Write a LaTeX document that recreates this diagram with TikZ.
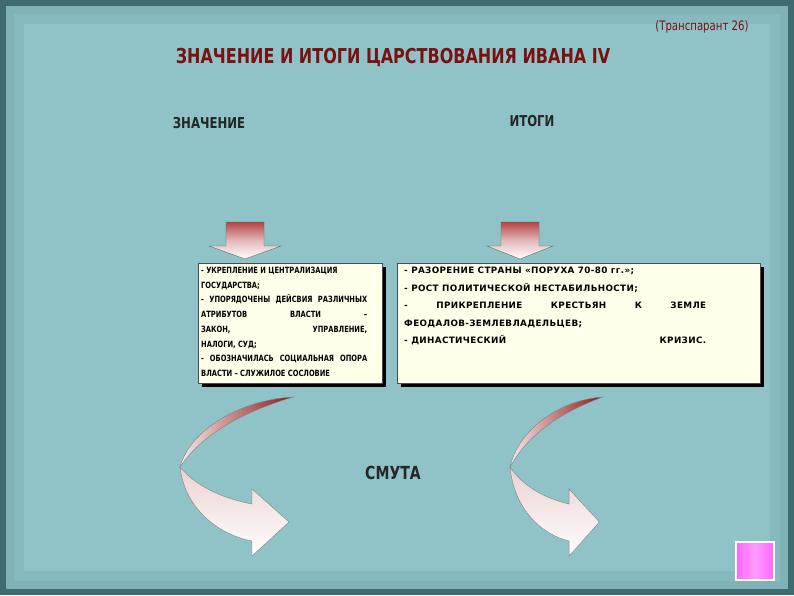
\documentclass[tikz,border=0pt]{standalone}
\usepackage{fontspec}
\setmainfont{DejaVu Sans}
\newfontfamily\nar[FakeStretch=0.78]{DejaVu Sans}
\newfontfamily\wid[LetterSpace=4]{DejaVu Sans}
\usetikzlibrary{shadings}
\definecolor{bg}{HTML}{8FC3C7}
\definecolor{bgd}{HTML}{3F6A70}
\definecolor{tred}{HTML}{7A1010}
\definecolor{cream}{HTML}{FFFFEA}
\definecolor{dred}{HTML}{A01818}
\tikzset{
 boxr/.style={draw=black!70,fill=cream,line width=0.6pt},
 btext/.style={anchor=north west,inner sep=0pt,font=\nar\fontsize{8.6}{14.7}\selectfont\bfseries},
 head/.style={font=\nar\fontsize{15}{17}\selectfont\bfseries,text=black!85},
 downarr/.style={draw=black!60,line width=0.4pt,top color=dred!80,bottom color=white,middle color=white!70!dred},
 upper/.style={draw=black!50,line width=0.4pt,left color=white!90!dred,right color=dred!90!black},
 lower/.style={draw=black!50,line width=0.4pt,top color=white!80!dred,bottom color=white},
}
\begin{document}
\begin{tikzpicture}[x=1pt,y=-1pt]
\useasboundingbox (0,0) rectangle (794,595);
\fill[bgd] (0,0) rectangle (794,595);
\fill[bg!80!bgd] (6,6) rectangle (788,589);
\fill[bg!90!bgd] (14,14) rectangle (780,581);
\fill[bg] (24,24) rectangle (770,571);
\node[font=\nar\fontsize{13}{15}\selectfont,text=tred,anchor=east] (tr) at (752,27) {(Транспарант 26)};
\node[font=\nar\fontsize{20.5}{23}\selectfont\bfseries,text=tred] (title) at (393,57) {ЗНАЧЕНИЕ И ИТОГИ ЦАРСТВОВАНИЯ ИВАНА IV};
\node[head] (h1) at (209,123) {ЗНАЧЕНИЕ};
\node[head] (h2) at (532,121) {ИТОГИ};
% down arrows
\draw[downarr] (226,222) -- (264,222) -- (264,246) -- (281,246) -- (245,259) -- (209,246) -- (226,246) -- cycle;
\draw[downarr] (501,222) -- (539,222) -- (539,246) -- (553,246) -- (520,259) -- (487,246) -- (501,246) -- cycle;
% boxes
\fill[black] (202,267) rectangle (386,387);
\draw[boxr] (198,263) rectangle (382,383);
\node[btext] (b1) at (201,267) {\parbox[t]{166pt}{- УКРЕПЛЕНИЕ И ЦЕНТРАЛИЗАЦИЯ\\ ГОСУДАРСТВА;\par
- УПОРЯДОЧЕНЫ ДЕЙСВИЯ РАЗЛИЧНЫХ\linebreak АТРИБУТОВ ВЛАСТИ – ЗАКОН, УПРАВЛЕНИЕ,\linebreak НАЛОГИ, СУД;\par
- ОБОЗНАЧИЛАСЬ СОЦИАЛЬНАЯ ОПОРА\linebreak ВЛАСТИ – СЛУЖИЛОЕ СОСЛОВИЕ}};
\fill[black] (401,267) rectangle (764,387);
\draw[boxr] (397,263) rectangle (760,383);
\node[btext,font=\wid\fontsize{8.8}{17.5}\selectfont\bfseries] (b2) at (404,267) {\parbox[t]{302pt}{- РАЗОРЕНИЕ СТРАНЫ «ПОРУХА 70-80 гг.»;\par
- РОСТ ПОЛИТИЧЕСКОЙ НЕСТАБИЛЬНОСТИ;\par
- ПРИКРЕПЛЕНИЕ КРЕСТЬЯН К ЗЕМЛЕ\linebreak ФЕОДАЛОВ-ЗЕМЛЕВЛАДЕЛЬЦЕВ;\par
- ДИНАСТИЧЕСКИЙ\hfill КРИЗИС.}};
% curved arrows
\foreach \sx/\xs in {0/1,330/0.82}{
\begin{scope}[shift={(180+\sx,0)}, xscale=\xs, shift={(-180,0)}]
\draw[upper] (293,397) .. controls (240,400) and (190,430) .. (180,467) .. controls (205,430) and (250,410) .. (293,397) -- cycle;
\draw[lower] (180,467) .. controls (185,510) and (220,535) .. (252,541) -- (252,556) -- (289,522) -- (252,489) -- (252,504) .. controls (220,498) and (195,485) .. (180,467) -- cycle;
\end{scope}}
\node[font=\nar\fontsize{18}{20}\selectfont\bfseries,text=black!85] (smuta) at (393,473) {СМУТА};
\node[draw=white,line width=1.5pt,minimum width=38pt,minimum height=38pt,left color=magenta!60,right color=magenta!60,middle color=white!60!magenta,shading angle=90] (sq) at (755,561) {};
\end{tikzpicture}
\end{document}
